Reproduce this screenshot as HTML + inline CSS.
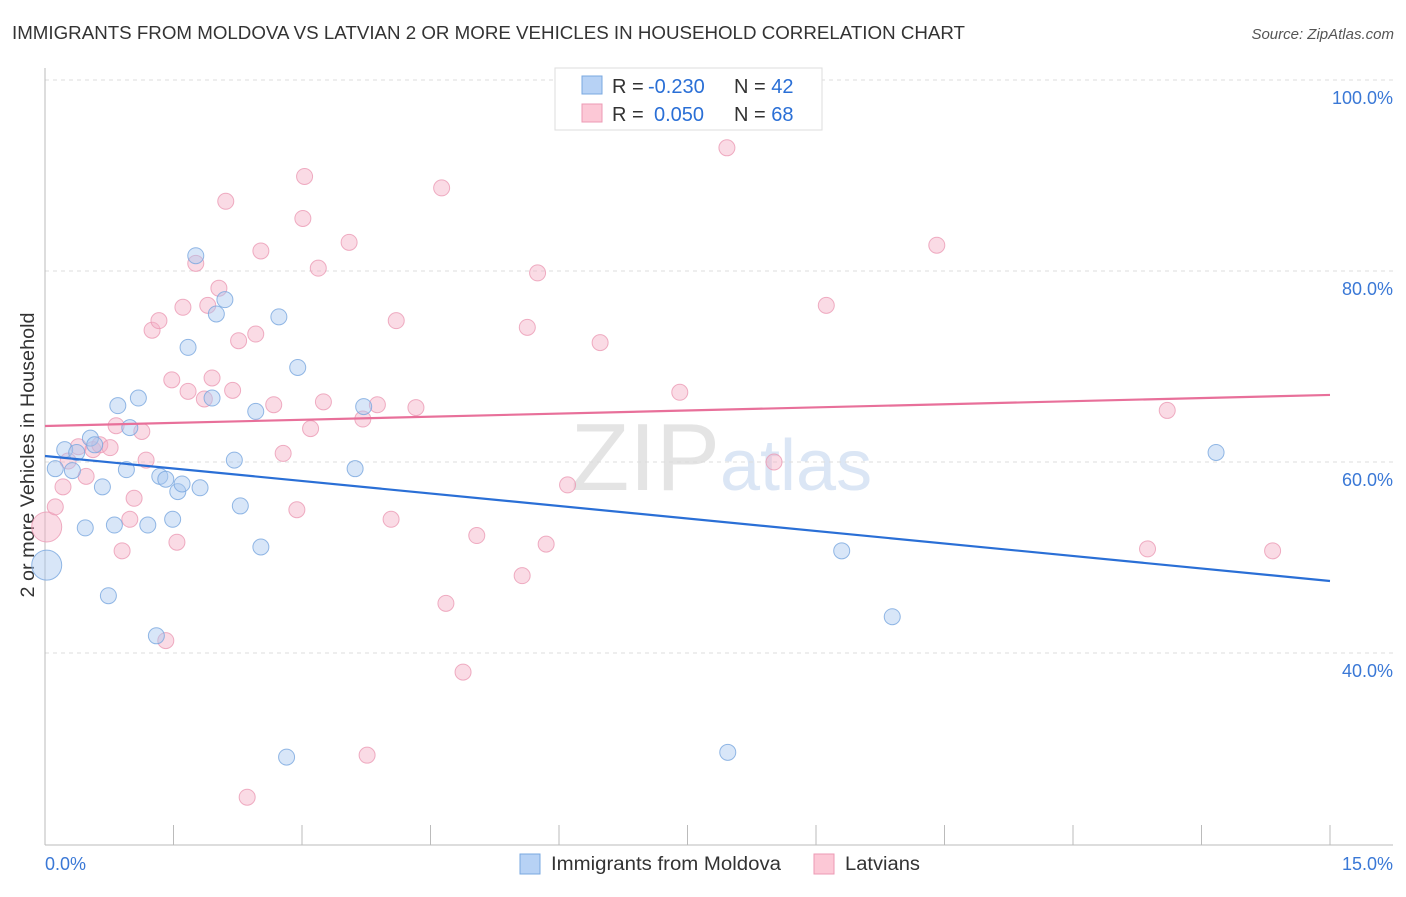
<!DOCTYPE html>
<html><head><meta charset="utf-8"><style>
body{margin:0;background:#fff;font-family:"Liberation Sans",sans-serif;}
svg text{font-family:"Liberation Sans",sans-serif;}
</style></head><body>
<svg id="c" width="1406" height="892">
<text x="12" y="39" font-size="18" fill="#333" textLength="953" lengthAdjust="spacingAndGlyphs">IMMIGRANTS FROM MOLDOVA VS LATVIAN 2 OR MORE VEHICLES IN HOUSEHOLD CORRELATION CHART</text>
<text x="1394" y="39" font-size="15" fill="#555" font-style="italic" text-anchor="end">Source: ZipAtlas.com</text>
<text x="720" y="490" font-size="96" fill="#e4e4e4" text-anchor="end" font-family="Liberation Serif">ZIP</text>
<text x="720" y="490" font-size="72" fill="#dbe6f5">atlas</text>
<text x="34" y="455" font-size="19" fill="#333" text-anchor="middle" transform="rotate(-90 34 455)" textLength="285" lengthAdjust="spacingAndGlyphs">2 or more Vehicles in Household</text>
<g id="grid"></g><g id="marks"></g>
<g>
<rect x="555" y="68" width="267" height="62" fill="#fff" stroke="#ddd"/>
<rect x="582" y="76" width="20" height="18" fill="#b7d2f5" stroke="#7aa8e0"/>
<rect x="582" y="104" width="20" height="18" fill="#fcc8d6" stroke="#ec9ab4"/>
<text x="612" y="93" font-size="20" fill="#333">R = <tspan x="648" fill="#2a6fd6">-0.230</tspan><tspan x="734">N = </tspan><tspan fill="#2a6fd6">42</tspan></text>
<text x="612" y="121" font-size="20" fill="#333">R = <tspan x="654" fill="#2a6fd6">0.050</tspan><tspan x="734">N = </tspan><tspan fill="#2a6fd6">68</tspan></text>
</g>
<g>
<rect x="520" y="854" width="20" height="20" fill="#b7d2f5" stroke="#7aa8e0"/>
<text x="551" y="870" font-size="19" fill="#333" textLength="230" lengthAdjust="spacingAndGlyphs">Immigrants from Moldova</text>
<rect x="814" y="854" width="20" height="20" fill="#fcc8d6" stroke="#ec9ab4"/>
<text x="845" y="870" font-size="19" fill="#333" textLength="75" lengthAdjust="spacingAndGlyphs">Latvians</text>
</g>
</svg>
<script>
const yTicks=[40,60,80,100];
const yTickLabels=["40.0%","60.0%","80.0%","100.0%"];
const xTicks=[0,1.5,3,4.5,6,7.5,9,10.5,12,13.5,15];
const blueX=[0.02,0.12,0.23,0.32,0.37,0.47,0.53,0.58,0.67,0.74,0.81,0.85,0.95,0.99,1.09,1.20,1.30,1.34,1.41,1.49,1.55,1.60,1.67,1.76,1.81,1.95,2.00,2.10,2.21,2.28,2.46,2.52,2.73,2.82,2.95,3.62,3.72,7.97,9.30,9.89,13.67];
const blueY=[49.2,59.3,61.3,59.1,61.0,53.1,62.5,61.8,57.4,46.0,53.4,65.9,59.2,63.6,66.7,53.4,41.8,58.5,58.2,54.0,56.9,57.7,72.0,81.6,57.3,66.7,75.5,77.0,60.2,55.4,65.3,51.1,75.2,29.1,69.9,59.3,65.8,29.6,50.7,43.8,61.0];
const pinkX=[0.02,0.12,0.21,0.27,0.39,0.48,0.56,0.64,0.76,0.83,0.90,0.99,1.04,1.13,1.18,1.25,1.33,1.41,1.48,1.54,1.61,1.67,1.76,1.86,1.90,1.95,2.03,2.11,2.19,2.26,2.46,2.52,2.67,2.78,2.94,3.01,3.03,3.10,3.19,3.25,3.55,3.71,3.88,3.76,4.04,4.10,4.33,4.63,4.68,4.88,5.04,5.57,5.63,5.75,5.85,6.10,6.48,7.41,7.96,8.51,9.12,10.41,12.87,13.10,14.33,2.36];
const pinkY=[53.2,55.3,57.4,60.1,61.6,58.5,61.3,61.8,61.5,63.8,50.7,54.0,56.2,63.2,60.2,73.8,74.8,41.3,68.6,51.6,76.2,67.4,80.8,66.6,76.4,68.8,78.2,87.3,67.5,72.7,73.4,82.1,66.0,60.9,55.0,85.5,89.9,63.5,80.3,66.3,83.0,64.5,66.0,29.3,54.0,74.8,65.7,88.7,45.2,38.0,52.3,48.1,74.1,79.8,51.4,57.6,72.5,67.3,92.9,60.0,76.4,82.7,50.9,65.4,50.7,24.9];
const blueTrend=[60.63,47.54];
const pinkTrend=[63.77,67.02];
const NS="http://www.w3.org/2000/svg";
const X=v=>45+v*(1285/15);
const Y=v=>80+(100-v)*9.55;
function mk(t,a,p){const e=document.createElementNS(NS,t);for(const k in a)e.setAttribute(k,a[k]);p.appendChild(e);return e;}
const grid=document.getElementById('grid'),marks=document.getElementById('marks');
yTicks.forEach((t,i)=>{
 const g=mk('line',{x1:45,x2:1393,y1:Y(t),y2:Y(t),stroke:'#ddd','stroke-dasharray':'4,4'},grid);
 
 const tx=mk('text',{x:1393,y:Y(t)+24,'font-size':18,fill:'#3a78d6','text-anchor':'end'},grid);tx.textContent=yTickLabels[i];
 
});
const ax=mk('line',{x1:45,x2:1393,y1:845,y2:845,stroke:'#bbb'},grid);

const ay=mk('line',{x1:45,x2:45,y1:68,y2:845,stroke:'#bbb'},grid);

xTicks.forEach(t=>{const k=mk('line',{x1:X(t),x2:X(t),y1:825,y2:845,stroke:'#bbb'},grid);
 });
let t0=mk('text',{x:45,y:870,'font-size':18,fill:'#3a78d6'},grid);t0.textContent='0.0%';

let t1=mk('text',{x:1393,y:870,'font-size':18,fill:'#3a78d6','text-anchor':'end'},grid);t1.textContent='15.0%';

function pts(xs,ys,fill,stroke,name){xs.forEach((x,i)=>{
 const c=mk('circle',{cx:X(x),cy:Y(ys[i]),r:i==0?15:8,fill:fill,'fill-opacity':0.45,stroke:stroke,'stroke-opacity':0.8,'stroke-width':1},marks);
 });}
pts(pinkX,pinkY,'#f5b0c6','#eb9ab4','latvian-point');
pts(blueX,blueY,'#a8c8f0','#78a6de','moldova-point');
const bl=mk('line',{x1:X(0),x2:X(15),y1:Y(blueTrend[0]),y2:Y(blueTrend[1]),stroke:'#2a6fd6','stroke-width':2.2},marks);

const pl=mk('line',{x1:X(0),x2:X(15),y1:Y(pinkTrend[0]),y2:Y(pinkTrend[1]),stroke:'#e8709a','stroke-width':2.2},marks);

</script>
</body></html>
